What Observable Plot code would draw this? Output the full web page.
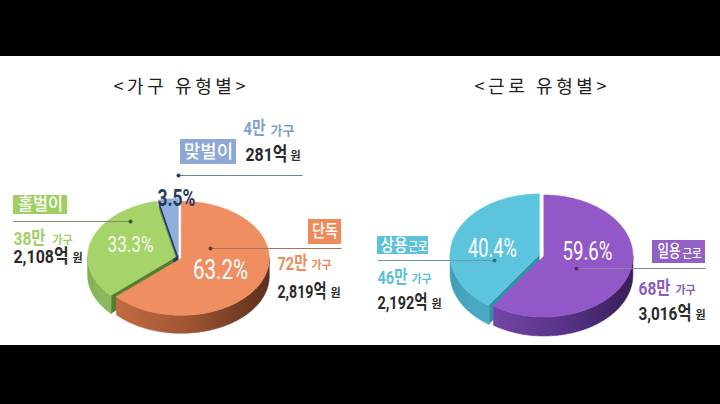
<!DOCTYPE html>
<html><head><meta charset="utf-8">
<script src="https://cdn.jsdelivr.net/npm/d3@7"></script>
<script src="https://cdn.jsdelivr.net/npm/@observablehq/plot@0.6"></script>
<style>
html,body{margin:0;padding:0;background:#000;width:720px;height:404px;overflow:hidden}
#chart{position:absolute;left:0;top:56px;width:720px;height:289px;background:#fff}
</style></head><body><div id="chart"></div>
<script>
// ---------- data ----------
const titles = ["<가구 유형별>", "<근로 유형별>"];
const householdTypes = ["단독", "홀벌이", "맞벌이"];
const householdShare = [63.2, 33.3, 3.5];      // %
const householdCount = [72, 38, 4];            // 만 가구
const householdAmount = [2819, 2108, 281];     // 억 원
const workTypes = ["일용근로", "상용근로"];
const workShare = [59.6, 40.4];
const workCount = [68, 46];
const workAmount = [3016, 2192];

// ---------- layout & style ----------
const pieGeom = [
  {cx: 178, cy: 257, rx: 88, ry: 57, depth: 18, explode: 3, titleX: 179, titleW: 132},
  {cx: 541, cy: 255, rx: 89, ry: 61, depth: 19, explode: 2.5, titleX: 540, titleW: 132}
];
const style = {
  "단독":   {top: "#EE8E61", side: ["#C26B43", "#9C5332", "#5C2F1D"], wall: "#A0522E", box: "#EE8A5B", num: "#EE8A5B", line: "#B2704F", dot: "#6E3A20", pct: "#FFFFFF", pctSize: 27, pctWeight: 400, unitSize: 11},
  "홀벌이": {top: "#A7D46A", side: ["#82AD4F", "#8DB85B", "#8DB85B"], wall: "#557F2E", box: "#9ECF62", num: "#9FCF66", line: "#7D8D6A", dot: "#3E5A22", pct: "#F3F8EA", pctSize: 22, pctWeight: 400, unitSize: 11},
  "맞벌이": {top: "#8EAEDB", side: ["#6F8FBF", "#6F8FBF", "#6F8FBF"], wall: "#2B3A5C", box: "#8CA9D6", num: "#7FA2D4", line: "#6C82A3", dot: "#2B3A5C", pct: "#2A3A5E", pctSize: 23, pctWeight: 700, unitSize: 13},
  "일용근로": {top: "#9258C7", side: ["#7246A6", "#583388", "#381E57"], wall: "#5E3890", box: "#9360C4", num: "#8A5CC0", line: "#8C7FA3", dot: "#4A2E6A", pct: "#FFFFFF", pctSize: 26, pctWeight: 400, unitSize: 11},
  "상용근로": {top: "#5DC4DD", side: ["#3F9DB7", "#48A8C2", "#4AAAC4"], wall: "#3790AA", box: "#5BC2DA", num: "#5BBFD8", line: "#6B9AA8", dot: "#2D6E80", pct: "#FFFFFF", pctSize: 26, pctWeight: 400, unitSize: 11}
};
// positions [x, y] and fitted text widths
const labelLayout = {
  "단독":    {pct: [220, 270, 55], dot: [210, 248], lineTo: 341, box: [308, 219, 341, 244], main: [324.5, 26], num: [277, 263, 30], unit: [311, 265], amt: [277, 291, 49], won: [330, 293]},
  "홀벌이":  {pct: [130, 244, 46], dot: [130, 221], lineTo: 13,  box: [13, 195, 67, 214],  main: [40, 45],    num: [13, 238, 32],  unit: [52, 240],  amt: [13, 256, 55],  won: [72, 258]},
  "맞벌이":  {pct: [176, 198, 38], dot: [178, 175], lineTo: 302, box: [180, 139, 236, 164], main: [208, 49],   num: [243, 128, 22], unit: [270, 130], amt: [245, 154, 42], won: [290, 156]},
  "일용근로": {pct: [587, 251, 50], dot: [576, 268], lineTo: 705, box: [652, 240, 705, 263], main: [668.5, 23], sub: [682, 20], num: [638, 288, 32], unit: [675, 290], amt: [638, 313, 53], won: [695, 315]},
  "상용근로": {pct: [492, 248, 49], dot: [494, 260], lineTo: 377, box: [377, 236, 428, 254], main: [393.5, 27], sub: [408, 19], num: [377, 277, 30], unit: [411, 279], amt: [377, 302, 50], won: [431, 304]}
};

const series = [
  {title: titles[0], types: householdTypes, share: householdShare, count: householdCount, amount: householdAmount},
  {title: titles[1], types: workTypes, share: workShare, count: workCount, amount: workAmount}
];

// ---------- slices from data ----------
const records = [];
series.forEach((s, si) => {
  const arcs = d3.pie().sort(null).value(d => d)(s.share);
  s.types.forEach((t, i) => records.push({
    pie: si, type: t, share: s.share[i], count: s.count[i], amount: s.amount[i],
    a0: arcs[i].startAngle, a1: arcs[i].endAngle, g: pieGeom[si]
  }));
});

const walls = [], sides = [], tops = [];
records.forEach((r, k) => {
  const g = r.g, mid = (r.a0 + r.a1) / 2;
  const ox = g.explode * Math.sin(mid), oy = -g.explode * Math.cos(mid) * g.ry / g.rx;
  const P = (a, down = 0) => ({x: g.cx + ox + g.rx * Math.sin(a), y: g.cy + oy - g.ry * Math.cos(a) + down});
  const C = (down = 0) => ({x: g.cx + ox, y: g.cy + oy + down});
  const A = (a0, a1, down = 0) => {
    const n = Math.max(2, Math.ceil(Math.abs(a1 - a0) / 0.015));
    return d3.range(n + 1).map(j => P(a0 + (a1 - a0) * j / n, down));
  };
  const st = style[r.type];
  if (Math.sin(r.a0) < -1e-6) walls.push({pts: [C(), P(r.a0), P(r.a0, g.depth), C(g.depth)], fill: st.wall});
  if (Math.sin(r.a1) > 1e-6) walls.push({pts: [C(), P(r.a1), P(r.a1, g.depth), C(g.depth)], fill: st.wall});
  const s0 = Math.max(r.a0, Math.PI / 2), s1 = Math.min(r.a1, 3 * Math.PI / 2);
  if (s0 < s1) sides.push({pts: [...A(s0, s1), ...A(s1, s0, g.depth)], fill: `url(#side${k})`});
  tops.push({pts: [C(), ...A(r.a0, r.a1)], fill: st.top});
});

const poly = p => Plot.line(p.pts, {x: "x", y: "y", curve: "linear-closed", fill: p.fill, stroke: p.fill, strokeWidth: 0.6});
const L = d => labelLayout[d.type];
const KR = "'Noto Sans CJK KR', sans-serif";
const NUM = "Roboto, 'Noto Sans CJK KR', sans-serif";
const isWork = d => d.type.endsWith("근로");
const pctText = d => d.share.toFixed(1) + "%";
const numText = d => d.count + "만";
const amtText = d => d3.format(",")(d.amount) + "억";
const mainText = d => isWork(d) ? d.type.slice(0, 2) : d.type;
const subText = d => d.type.slice(2);

// text content -> [fitted width, lengthAdjust]
const fits = new Map();
series.forEach((s, i) => fits.set(s.title, [pieGeom[i].titleW, "spacing"]));
records.forEach(d => {
  fits.set(pctText(d), [L(d).pct[2]]);
  fits.set(numText(d), [L(d).num[2]]);
  fits.set(amtText(d), [L(d).amt[2]]);
  fits.set(mainText(d), [L(d).main[1]]);
  if (isWork(d)) fits.set(subText(d), [L(d).sub[1]]);
});

const marks = [
  ...walls.map(poly), ...sides.map(poly), ...tops.map(poly),
  // titles
  Plot.text(series, {x: (d, i) => pieGeom[i].titleX, y: () => 87, text: "title", fontSize: 18, fill: "#222", fontFamily: KR}),
  // percent labels
  ...records.map(d => Plot.text([d], {x: d => L(d).pct[0], y: d => L(d).pct[1], text: pctText,
    fontSize: style[d.type].pctSize, fontWeight: style[d.type].pctWeight, fill: style[d.type].pct, fontFamily: NUM})),
  // leader lines
  ...records.map(d => Plot.link([d], {x1: d => L(d).dot[0], y1: d => L(d).dot[1], x2: d => L(d).lineTo, y2: d => L(d).dot[1], stroke: style[d.type].line, strokeWidth: 1.1})),
  ...records.map(d => Plot.dot([d], {x: d => L(d).dot[0], y: d => L(d).dot[1], r: 2, fill: style[d.type].dot})),
  // label boxes
  ...records.map(d => Plot.rect([d], {x1: d => L(d).box[0], y1: d => L(d).box[1], x2: d => L(d).box[2], y2: d => L(d).box[3], fill: style[d.type].box})),
  ...records.map(d => Plot.text([d], {x: d => L(d).main[0], y: d => (L(d).box[1] + L(d).box[3]) / 2, text: mainText,
    fill: "#fff", fontSize: d.type === "맞벌이" ? 18 : 17, fontWeight: 500, fontFamily: KR})),
  Plot.text(records.filter(isWork), {x: d => L(d).sub[0], y: d => (L(d).box[1] + L(d).box[3]) / 2 + 2, text: subText,
    textAnchor: "start", fill: "#fff", fontSize: 12, fontWeight: 500, fontFamily: KR}),
  // counts and amounts
  ...records.map(d => Plot.text([d], {x: d => L(d).num[0], y: d => L(d).num[1], text: numText, textAnchor: "start",
    fill: style[d.type].num, fontSize: 19, fontWeight: 700, fontFamily: NUM})),
  ...records.map(d => Plot.text([d], {x: d => L(d).unit[0], y: d => L(d).unit[1], text: () => "가구", textAnchor: "start",
    fill: style[d.type].num, fontSize: style[d.type].unitSize, fontWeight: 700, fontFamily: KR})),
  Plot.text(records, {x: d => L(d).amt[0], y: d => L(d).amt[1], text: amtText, textAnchor: "start",
    fill: "#2B2B2B", fontSize: 19, fontWeight: 700, fontFamily: NUM}),
  Plot.text(records, {x: d => L(d).won[0], y: d => L(d).won[1], text: () => "원", textAnchor: "start",
    fill: "#2B2B2B", fontSize: 11, fontWeight: 700, fontFamily: KR})
];

const svg = Plot.plot({
  width: 720, height: 289, margin: 0,
  x: {domain: [0, 720], range: [0, 720], axis: null},
  y: {domain: [56, 345], range: [0, 289], axis: null},
  style: {background: "#fff", fontFamily: KR, overflow: "visible"},
  marks
});

// gradients for the side walls
const defs = records.map((r, k) => {
  const c = style[r.type].side;
  return `<linearGradient id="side${k}" x1="0" x2="1" y1="0" y2="0">` +
    c.map((col, j) => `<stop offset="${j / (c.length - 1)}" stop-color="${col}"/>`).join("") + `</linearGradient>`;
}).join("");
const defsEl = document.createElementNS("http://www.w3.org/2000/svg", "defs");
defsEl.innerHTML = defs;
svg.insertBefore(defsEl, svg.firstChild);

// fit texts to the widths (condensed type)
svg.querySelectorAll("text").forEach(t => {
  const f = fits.get(t.textContent);
  if (f) {
    t.setAttribute("textLength", f[0]);
    t.setAttribute("lengthAdjust", f[1] || "spacingAndGlyphs");
  }
});

document.getElementById("chart").appendChild(svg);
</script></body></html>
